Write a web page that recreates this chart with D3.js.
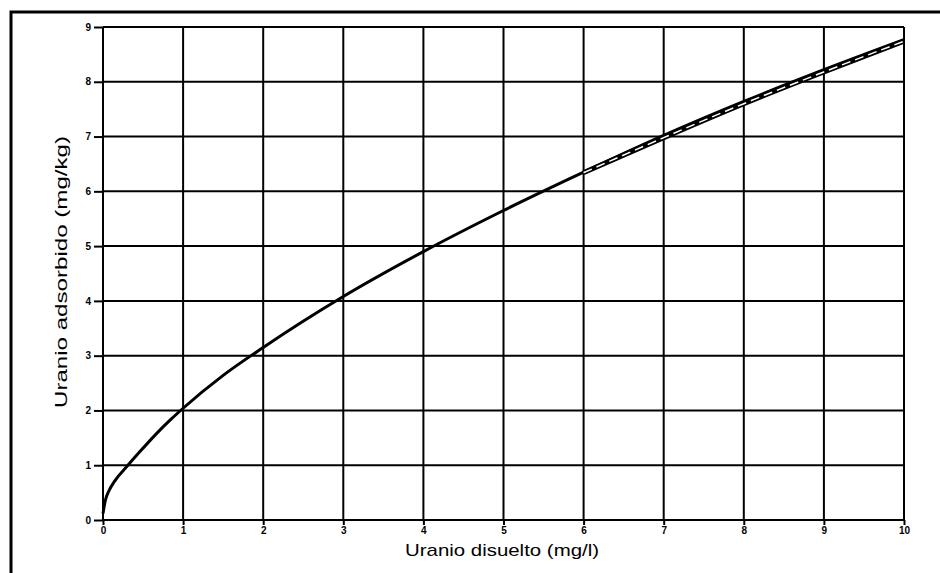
<!DOCTYPE html>
<html>
<head>
<meta charset="utf-8">
<script src="https://cdn.jsdelivr.net/npm/d3@7"></script>
<style>
  body { margin: 0; background: #fff; }
  svg { display: block; font-family: "Liberation Sans", Arial, sans-serif; }
</style>
</head>
<body>
<div id="chart-area"></div>
<script>
// isoterma de adsorcion de uranio

const MARGIN = {LEFT: 103, RIGHT: 36, TOP: 27, BOTTOM: 53}
const WIDTH = 940 - MARGIN.LEFT - MARGIN.RIGHT
const HEIGHT = 573 - MARGIN.TOP - MARGIN.BOTTOM

// data
const xTicks = [0, 1, 2, 3, 4, 5, 6, 7, 8, 9, 10]
const yTicks = [0, 1, 2, 3, 4, 5, 6, 7, 8, 9]

const curveX = [0, 0.03, 0.07, 0.15, 0.3, 0.45, 0.65, 0.85, 1, 1.5, 2, 3, 4, 5, 6, 7, 8, 9, 10]
const curveY = [0.12, 0.36, 0.52, 0.72, 0.98, 1.23, 1.55, 1.84, 2.04, 2.64, 3.15, 4.08, 4.9, 5.65, 6.35, 7.02, 7.64, 8.22, 8.77]

const dashX = [6, 7, 8, 9, 10]
const dashY = [6.34, 6.98, 7.6, 8.18, 8.74]

const svg = d3.select("#chart-area").append("svg")
    .attr("width", 940)
    .attr("height", 573)

// outer frame (top and left only)
svg.append("path")
    .attr("d", "M11,573 V12 H940")
    .attr("fill", "none")
    .attr("stroke", "#000")
    .attr("stroke-width", 3)

const g = svg.append("g")
    .attr("transform", `translate(${MARGIN.LEFT}, ${MARGIN.TOP})`)

const x = d3.scaleLinear().domain([0, 10]).range([0, WIDTH])
const y = d3.scaleLinear().domain([0, 9]).range([HEIGHT, 0])

// grid
g.append("g").selectAll("line")
    .data(xTicks)
    .enter().append("line")
    .attr("x1", d => x(d)).attr("x2", d => x(d))
    .attr("y1", 0).attr("y2", HEIGHT)
    .attr("stroke", "#000").attr("stroke-width", 2)

g.append("g").selectAll("line")
    .data(yTicks)
    .enter().append("line")
    .attr("x1", 0).attr("x2", WIDTH)
    .attr("y1", d => y(d)).attr("y2", d => y(d))
    .attr("stroke", "#000").attr("stroke-width", 2)

// axes
const xAxisCall = d3.axisBottom(x).tickValues(xTicks).tickSize(5).tickPadding(2)
g.append("g")
    .attr("class", "x axis")
    .attr("transform", `translate(0, ${HEIGHT})`)
    .call(xAxisCall)
    .call(a => a.select(".domain").remove())
    .call(a => a.selectAll("line").attr("stroke", "#000").attr("stroke-width", 2))
    .call(a => a.selectAll("text").attr("font-size", "10px").attr("font-weight", "bold")
        .attr("font-family", "Liberation Sans, Arial, sans-serif").attr("fill", "#000"))

const yAxisCall = d3.axisLeft(y).tickValues(yTicks).tickSize(9).tickPadding(3)
g.append("g")
    .attr("class", "y axis")
    .call(yAxisCall)
    .call(a => a.select(".domain").remove())
    .call(a => a.selectAll("line").attr("stroke", "#000").attr("stroke-width", 2))
    .call(a => a.selectAll("text").attr("font-size", "10px").attr("font-weight", "bold")
        .attr("font-family", "Liberation Sans, Arial, sans-serif").attr("fill", "#000"))

// labels
g.append("text")
    .attr("x", 502 - MARGIN.LEFT)
    .attr("y", HEIGHT + 36)
    .attr("font-size", "17px")
    .attr("text-anchor", "middle")
    .attr("textLength", 194)
    .attr("lengthAdjust", "spacingAndGlyphs")
    .text("Uranio disuelto (mg/l)")

g.append("text")
    .attr("x", -(272 - MARGIN.TOP))
    .attr("y", -36)
    .attr("font-size", "17px")
    .attr("text-anchor", "middle")
    .attr("transform", "rotate(-90)")
    .attr("textLength", 272)
    .attr("lengthAdjust", "spacingAndGlyphs")
    .text("Uranio adsorbido (mg/kg)")

// curves
const line = d3.line()
    .x(d => x(d[0]))
    .y(d => y(d[1]))
    .curve(d3.curveMonotoneX)

const solidData = curveX.map((v, i) => [v, curveY[i]])
const dashData = dashX.map((v, i) => [v, dashY[i]])

g.append("path")
    .datum(solidData)
    .attr("d", line)
    .attr("fill", "none")
    .attr("stroke", "#000")
    .attr("stroke-width", 3)

g.append("path")
    .datum(dashData)
    .attr("d", line)
    .attr("fill", "none")
    .attr("stroke", "#000")
    .attr("stroke-width", 5)

g.append("path")
    .datum(dashData)
    .attr("d", line)
    .attr("fill", "none")
    .attr("stroke", "#fff")
    .attr("stroke-width", 1.5)
    .attr("stroke-dasharray", "9,5")
</script>
</body>
</html>
